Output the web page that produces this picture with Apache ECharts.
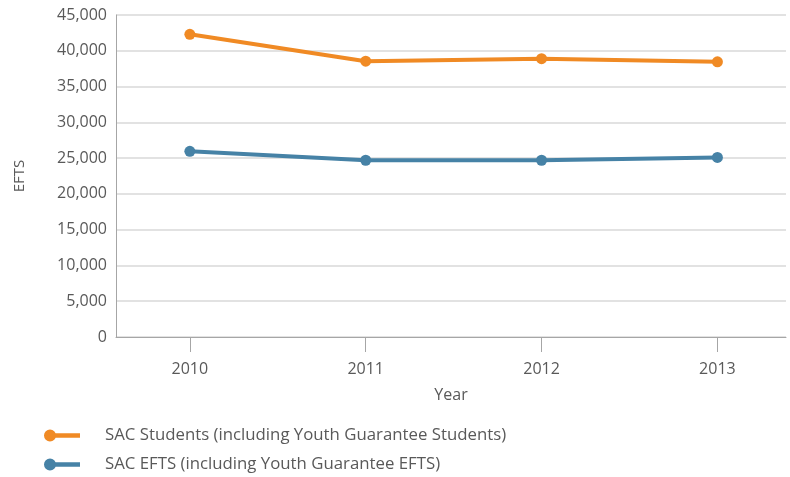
<!DOCTYPE html>
<html>
<head>
<meta charset="utf-8">
<script src="https://cdn.jsdelivr.net/npm/echarts@6/dist/echarts.min.js"></script>
<style>
  html, body { margin: 0; padding: 0; background: #fff; }
  #chart { width: 790px; height: 477px; }
</style>
</head>
<body>
<div id="chart"></div>
<script>
const years = [2010, 2011, 2012, 2013];
const studentsName = 'SAC Students (including Youth Guarantee Students)';
const eftsName = 'SAC EFTS (including Youth Guarantee EFTS)';
const studentsValues = [42300, 38550, 38900, 38450];
const eftsValues = [25950, 24700, 24700, 25100];

const ORANGE = '#f08a24';
const BLUE = '#4682a6';
const TEXT = '#595959';
const FONT = 'Open Sans';

const legendIcon = 'path://M0,6A6,6 0 1,1 12,6A6,6 0 1,1 0,6Z M6,3.8L36,3.8L36,8.2L6,8.2Z';

function legendFor(name, top) {
  return {
    orient: 'horizontal',
    left: 44,
    top: top,
    padding: 0,
    itemWidth: 36,
    itemHeight: 12,
    textStyle: { color: TEXT, fontSize: 16.8, fontFamily: FONT, padding: [0, 0, 0, 20] },
    data: [{ name: name, icon: legendIcon }]
  };
}

const chart = echarts.init(document.getElementById('chart'), null, { renderer: 'canvas' });
chart.setOption({
  animation: false,
  backgroundColor: '#ffffff',
  textStyle: { fontFamily: FONT },
  grid: { left: 116, right: 4, top: 15, bottom: 140 },
  legend: [legendFor(studentsName, 427), legendFor(eftsName, 456)],
  xAxis: {
    type: 'value',
    min: 2009.58,
    max: 2013.39,
    name: 'Year',
    nameLocation: 'middle',
    nameGap: 50,
    nameTextStyle: { color: TEXT, fontSize: 16, fontFamily: FONT },
    axisLine: { show: true, lineStyle: { color: '#a6a6a6', width: 1 } },
    axisTick: { show: true, customValues: years, length: 15, lineStyle: { color: '#a6a6a6', width: 1 } },
    axisLabel: { customValues: years, margin: 24, color: TEXT, fontSize: 16, fontFamily: FONT,
      formatter: v => String(v) },
    splitLine: { show: false }
  },
  yAxis: {
    type: 'value',
    min: 0,
    max: 45000,
    interval: 5000,
    name: 'EFTS',
    nameLocation: 'middle',
    nameGap: 89,
    nameRotate: 90,
    nameTextStyle: { color: TEXT, fontSize: 15, fontFamily: FONT },
    axisLine: { show: true, lineStyle: { color: '#a6a6a6', width: 1 } },
    axisTick: { show: false },
    axisLabel: { margin: 9, color: TEXT, fontSize: 16, fontFamily: FONT,
      formatter: v => v.toLocaleString('en-US') },
    splitLine: { show: true, lineStyle: { color: '#d9d9d9', width: 1.5 } }
  },
  series: [
    {
      name: studentsName,
      type: 'line',
      data: years.map((y, i) => [y, studentsValues[i]]),
      symbol: 'circle',
      symbolSize: 11,
      itemStyle: { color: ORANGE },
      lineStyle: { color: ORANGE, width: 4 }
    },
    {
      name: eftsName,
      type: 'line',
      data: years.map((y, i) => [y, eftsValues[i]]),
      symbol: 'circle',
      symbolSize: 11,
      itemStyle: { color: BLUE },
      lineStyle: { color: BLUE, width: 4 }
    }
  ]
});
</script>
</body>
</html>
